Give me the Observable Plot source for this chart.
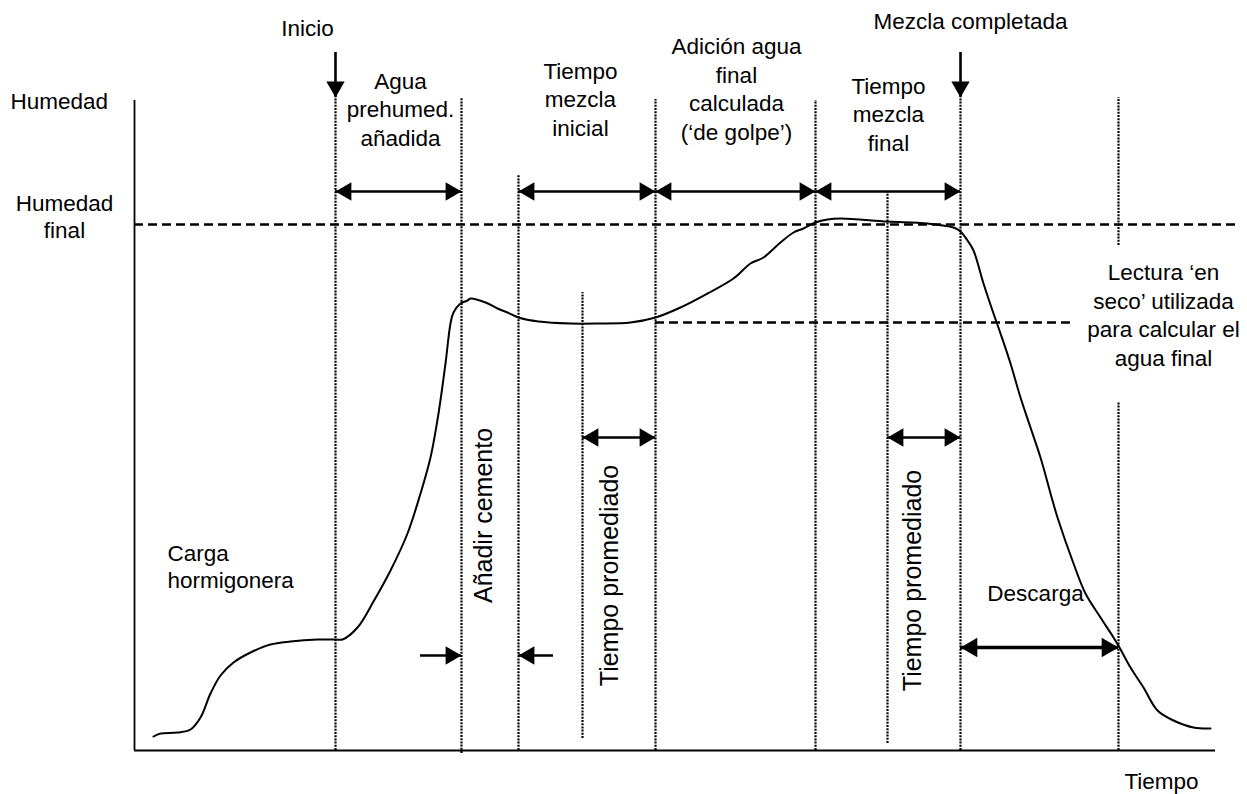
<!DOCTYPE html>
<html><head><meta charset="utf-8">
<script src="https://cdn.jsdelivr.net/npm/d3@7"></script>
<script src="https://cdn.jsdelivr.net/npm/@observablehq/plot@0.6"></script>
<style>body{margin:0;background:#fff}</style>
</head><body><div id="chart"></div>
<script>
// Axis extents (time units, humidity units)
const timeDomain = [0, 1081];
const humDomain = [0, 650];

// Moisture curve
const curveT = [19,26,43,56,66,76,86,99,116,136,156,183,201,208,223,239,256,273,286,296,304,311,316,319,326,333,336,351,363,373,384,404,436,463,496,521,546,573,599,616,629,646,659,669,681,693,706,753,793,819,826,833,839,849,859,866,876,886,896,906,918,923,939,951,966,979,985,996,1009,1023,1039,1059,1076];
const curveH = [14,17,18,21,33,57,75,88,98,106,109,111,111,111,123,149,180,217,257,293,337,387,427,438,447,450,452,448,442,438,433,429,427,427,428,433,443,457,472,487,493,508,518,522,528,531,532,529,527,523,519,510,500,467,437,417,387,353,323,293,250,233,187,157,133,113,103,83,63,40,30,23,22];

// Phase boundaries (dotted verticals)
const boundT  = [201,327,384,448,521,681,753,826,984,984];
const boundH1 = [0,-3,0,12,0,0,7,0,505,0];
const boundH2 = [653,652,575,458,651,650,558,653,653,348];

// Reference levels (dashed horizontals): final moisture, dry reading
const levelH  = [526,428];
const levelT1 = [0,521];
const levelT2 = [1103,939];

// Double-headed spans
const spanH  = [559,559,559,559,313,313];
const spanT1 = [201,384,521,681,448,753];
const spanT2 = [327,521,681,826,521,826];
// Discharge span
const dischargeH = [103];
const dischargeT1 = [826];
const dischargeT2 = [984];

// Single pointers (cement addition)
const pointerH    = [95,95];
const pointerFrom = [286,419];
const pointerTo   = [327,384];

// Event arrows (Inicio, Mezcla completada)
const eventT    = [201,826];
const eventFrom = [698,698];
const eventTo   = [653,653];

// Labels
const labelText = ["Inicio","Mezcla completada","Agua\nprehumed.\nañadida","Tiempo\nmezcla\ninicial","Adición agua\nfinal\ncalculada\n(‘de golpe’)","Tiempo\nmezcla\nfinal","Lectura ‘en\nseco’ utilizada\npara calcular el\nagua final","Descarga","Tiempo"];
const labelT = [173,836,266,446,602,754,1029,901,1027];
const labelH = [715,722,605,615,611,600,385,150,-38];

const label2Text = ["Humedad\nfinal"];
const label2T = [-70];
const label2H = [513];

const leftText = ["Humedad","Carga\nhormigonera"];
const leftT = [-124,33];
const leftH = [642,163];

const vertText = ["Añadir cemento","Tiempo promediado","Tiempo promediado"];
const vertT = [357,483,786];
const vertH = [235,175,170];

// Build tables
const curve = curveT.map((t,i)=>({t, h: curveH[i]}));
const bounds = boundT.map((t,i)=>({t, h1: boundH1[i], h2: boundH2[i]}));
const levels = levelH.map((h,i)=>({h, t1: levelT1[i], t2: levelT2[i]}));
const spans = spanH.map((h,i)=>({h, t1: spanT1[i], t2: spanT2[i]}));
const discharge = dischargeH.map((h,i)=>({h, t1: dischargeT1[i], t2: dischargeT2[i]}));
const pointers = pointerH.map((h,i)=>({h, from: pointerFrom[i], to: pointerTo[i]}));
const events = eventT.map((t,i)=>({t, from: eventFrom[i], to: eventTo[i]}));

const headsRight = [], headsLeft = [];
spans.forEach(s => { headsLeft.push({t: s.t1, h: s.h}); headsRight.push({t: s.t2, h: s.h}); });
pointers.forEach(p => (p.to > p.from ? headsRight : headsLeft).push({t: p.to, h: p.h}));
const dHeadsLeft = discharge.map(d => ({t: d.t1, h: d.h}));
const dHeadsRight = discharge.map(d => ({t: d.t2, h: d.h}));
const headsDown = events.map(e => ({t: e.t, h: e.to}));

const labels = labelText.map((text,i)=>({text, t: labelT[i], h: labelH[i]}));
const labels2 = label2Text.map((text,i)=>({text, t: label2T[i], h: label2H[i]}));
const lefts = leftText.map((text,i)=>({text, t: leftT[i], h: leftH[i]}));
const verts = vertText.map((text,i)=>({text, t: vertT[i], h: vertH[i]}));

const ink = "#000";
const R = 6.8, OFF = 10.6;      // triangle head size and centroid offset
const R2 = 7.2, OFF2 = 11.2;

const chart = Plot.plot({
  width: 1247, height: 794,
  marginLeft: 134, marginRight: 32, marginTop: 100, marginBottom: 44,
  x: {domain: timeDomain, axis: null},
  y: {domain: humDomain, axis: null},
  style: {fontFamily: "'Liberation Sans', Arial, sans-serif", background: "#fff", color: "#000", overflow: "visible"},
  marks: [
    // axes
    Plot.ruleX([timeDomain[0]], {y1: humDomain[0], y2: humDomain[1], stroke: ink, strokeWidth: 1.8}),
    Plot.ruleY([humDomain[0]], {x1: timeDomain[0], x2: timeDomain[1], stroke: ink, strokeWidth: 1.8}),
    // dotted boundaries
    Plot.ruleX(bounds, {x: "t", y1: "h1", y2: "h2", stroke: ink, strokeWidth: 2.2, strokeDasharray: "2,1.2"}),
    // dashed levels
    Plot.ruleY(levels, {y: "h", x1: "t1", x2: "t2", stroke: ink, strokeWidth: 2.6, strokeDasharray: "9,5"}),
    // curve
    Plot.line(curve, {x: "t", y: "h", curve: "catmull-rom", stroke: ink, strokeWidth: 2}),
    // arrow shafts
    Plot.ruleY(spans, {y: "h", x1: "t1", x2: "t2", stroke: ink, strokeWidth: 2.6}),
    Plot.ruleY(discharge, {y: "h", x1: "t1", x2: "t2", stroke: ink, strokeWidth: 3.6}),
    Plot.ruleY(pointers, {y: "h", x1: "from", x2: "to", stroke: ink, strokeWidth: 2.6}),
    Plot.ruleX(events, {x: "t", y1: "from", y2: "to", stroke: ink, strokeWidth: 2.6}),
    // arrow heads
    Plot.dot(headsRight, {x: "t", y: "h", symbol: "triangle", r: R, rotate: 90, dx: -OFF, fill: ink, stroke: null}),
    Plot.dot(headsLeft, {x: "t", y: "h", symbol: "triangle", r: R, rotate: -90, dx: OFF, fill: ink, stroke: null}),
    Plot.dot(dHeadsRight, {x: "t", y: "h", symbol: "triangle", r: R2, rotate: 90, dx: -OFF2, fill: ink, stroke: null}),
    Plot.dot(dHeadsLeft, {x: "t", y: "h", symbol: "triangle", r: R2, rotate: -90, dx: OFF2, fill: ink, stroke: null}),
    Plot.dot(headsDown, {x: "t", y: "h", symbol: "triangle", r: R, rotate: 180, dy: -OFF, fill: ink, stroke: null}),
    // labels
    Plot.text(labels, {x: "t", y: "h", text: "text", textAnchor: "middle", lineAnchor: "bottom", fontSize: 22.5, lineHeight: 1.26, fill: ink}),
    Plot.text(labels2, {x: "t", y: "h", text: "text", textAnchor: "middle", lineAnchor: "bottom", fontSize: 22.5, lineHeight: 1.2, fill: ink}),
    Plot.text(lefts, {x: "t", y: "h", text: "text", textAnchor: "start", lineAnchor: "bottom", fontSize: 22.5, lineHeight: 1.2, fill: ink}),
    Plot.text(verts, {x: "t", y: "h", text: "text", textAnchor: "middle", lineAnchor: "bottom", rotate: -90, fontSize: 25, fill: ink})
  ]
});
document.getElementById("chart").appendChild(chart);
</script>
</body></html>
